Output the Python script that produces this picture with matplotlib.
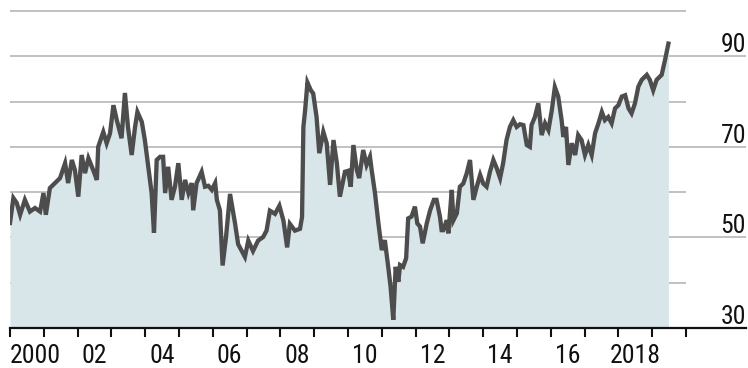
import matplotlib
matplotlib.use("Agg")
import matplotlib.pyplot as plt
import matplotlib.transforms as mtransforms
import numpy as np

# ---- data (decimal year, value) ----
years = [
    2000.00, 2000.10, 2000.20, 2000.30, 2000.44, 2000.59, 2000.74, 2000.89, 2000.99, 2001.06,
    2001.18, 2001.33, 2001.48, 2001.63, 2001.72, 2001.83, 2001.92, 2002.02, 2002.12, 2002.22,
    2002.32, 2002.46, 2002.57, 2002.61, 2002.76, 2002.86, 2002.96, 2003.06, 2003.16, 2003.30,
    2003.40, 2003.49, 2003.60, 2003.70, 2003.77, 2003.90, 2003.99, 2004.09, 2004.19, 2004.26,
    2004.34, 2004.44, 2004.53, 2004.59, 2004.68, 2004.78, 2004.88, 2004.98, 2005.08, 2005.18,
    2005.28, 2005.38, 2005.42, 2005.52, 2005.67, 2005.77, 2005.87, 2005.97, 2006.07, 2006.12,
    2006.21, 2006.29, 2006.39, 2006.51, 2006.66, 2006.75, 2006.95, 2007.05, 2007.19, 2007.34,
    2007.49, 2007.59, 2007.69, 2007.84, 2007.97, 2008.09, 2008.20, 2008.28, 2008.43, 2008.58,
    2008.64, 2008.68, 2008.73, 2008.80, 2008.90, 2008.97, 2009.07, 2009.15, 2009.27, 2009.37,
    2009.47, 2009.57, 2009.67, 2009.76, 2009.91, 2010.00, 2010.08, 2010.16, 2010.26, 2010.33,
    2010.45, 2010.55, 2010.65, 2010.70, 2010.80, 2010.90, 2011.00, 2011.09, 2011.19, 2011.26,
    2011.34, 2011.41, 2011.49, 2011.54, 2011.63, 2011.72, 2011.78, 2011.88, 2011.98, 2012.05,
    2012.13, 2012.21, 2012.33, 2012.43, 2012.54, 2012.62, 2012.72, 2012.77, 2012.82, 2012.92,
    2012.97, 2013.07, 2013.12, 2013.22, 2013.31, 2013.41, 2013.51, 2013.61, 2013.71, 2013.81,
    2013.91, 2014.00, 2014.10, 2014.20, 2014.30, 2014.40, 2014.50, 2014.59, 2014.69, 2014.79,
    2014.89, 2014.99, 2015.09, 2015.19, 2015.29, 2015.38, 2015.43, 2015.53, 2015.63, 2015.73,
    2015.83, 2015.93, 2016.03, 2016.12, 2016.22, 2016.32, 2016.37, 2016.45, 2016.52, 2016.62,
    2016.72, 2016.81, 2016.91, 2017.01, 2017.11, 2017.21, 2017.31, 2017.41, 2017.51, 2017.60,
    2017.70, 2017.80, 2017.90, 2018.00, 2018.10, 2018.20, 2018.30, 2018.39, 2018.49, 2018.59,
    2018.69, 2018.84, 2018.93, 2019.03, 2019.13, 2019.28, 2019.38, 2019.48,
]
values = [
    53.2, 58.7, 57.6, 55.0, 58.3, 55.7, 56.5, 55.7, 59.8, 55.0,
    60.9, 62.0, 63.1, 66.4, 62.0, 67.1, 64.9, 59.0, 68.2, 64.2,
    67.5, 64.9, 62.7, 70.0, 73.3, 70.8, 73.0, 79.2, 75.9, 71.9,
    81.9, 74.4, 68.2, 74.4, 77.7, 75.5, 71.5, 65.6, 59.8, 51.0,
    67.1, 67.8, 67.8, 59.8, 65.6, 58.3, 61.2, 66.4, 58.3, 62.7,
    59.8, 62.0, 56.0, 62.0, 64.5, 61.2, 61.4, 60.5, 62.0, 58.3,
    56.0, 43.8, 50.0, 59.6, 53.0, 48.5, 45.7, 49.3, 47.0, 49.3,
    50.1, 51.5, 55.9, 55.2, 57.0, 53.7, 47.8, 53.0, 51.5, 51.9,
    54.5, 74.4, 78.0, 84.2, 82.5, 81.8, 76.6, 68.6, 73.3, 70.8,
    61.6, 71.5, 66.4, 59.0, 64.5, 64.7, 61.2, 70.4, 64.9, 63.1,
    69.3, 66.0, 67.8, 64.9, 59.7, 53.1, 47.2, 49.4, 43.5, 39.1,
    31.8, 43.5, 40.2, 43.9, 43.5, 45.4, 54.2, 54.6, 56.8, 53.1,
    52.4, 48.7, 53.1, 56.0, 58.3, 58.3, 54.6, 51.6, 51.6, 53.8,
    50.9, 60.5, 53.8, 55.3, 61.2, 61.9, 64.1, 67.1, 58.3, 61.2,
    63.8, 61.9, 61.2, 64.5, 67.1, 65.3, 63.1, 66.4, 71.5, 74.4,
    75.9, 74.4, 75.0, 74.8, 70.4, 70.0, 74.8, 76.6, 79.6, 72.6,
    75.2, 73.7, 78.1, 83.2, 81.1, 75.9, 72.2, 74.4, 66.0, 70.8,
    68.2, 72.6, 71.5, 68.2, 70.4, 68.2, 73.0, 75.2, 77.7, 75.9,
    76.6, 75.2, 78.5, 79.2, 81.1, 81.4, 78.5, 77.4, 79.6, 83.3,
    84.8, 85.9, 84.8, 82.5, 84.8, 85.9, 89.2, 92.8,
]

tick_years = list(range(2000, 2021))
label_years = [2000, 2002, 2004, 2006, 2008, 2010, 2012, 2014, 2016, 2018]
label_texts = ["2000", "02", "04", "06", "08", "10", "12", "14", "16", "2018"]
grid_levels = [40, 60, 80, 100]
labeled_levels = [50, 70, 90]
label_values = ["30", "50", "70", "90"]

FONT = ["Roboto Condensed", "Liberation Sans Narrow", "DejaVu Sans Condensed",
        "Open Sans Condensed", "Roboto", "DejaVu Sans"]
LINE_C = "#4d4d4d"
FILL_C = "#d8e6ea"
GRID_C = "#bcbcbc"
TXT_C = "#111111"
FS = 18.5

W, H = 748, 368
fig = plt.figure(figsize=(W / 100, H / 100), dpi=100)
ax = fig.add_axes([10 / W, 40 / H, 736 / W, 328 / H])
ax.set_facecolor("white")

x_end = 2020 + 60 / 33.8
ax.set_xlim(2000, x_end)
ax.set_ylim(30, 30 + 328 / 4.5286)

# gridlines
for g in grid_levels:
    ax.plot([2000, 2020], [g, g], color=GRID_C, lw=1.3, zorder=1, solid_capstyle="butt")
for g in labeled_levels:
    ax.plot([2000, x_end], [g, g], color=GRID_C, lw=1.3, zorder=1, solid_capstyle="butt")

# area + line
ax.fill_between(years, 30, values, color=FILL_C, lw=0, zorder=2)
ax.plot(years, values, color=LINE_C, lw=3.1, zorder=3, solid_joinstyle="miter")

# bottom axis
for s in ["top", "right", "left"]:
    ax.spines[s].set_visible(False)
ax.spines["bottom"].set_color(TXT_C)
ax.spines["bottom"].set_linewidth(1.6)
ax.spines["bottom"].set_zorder(4)
ax.set_yticks([])
ax.set_xticks(tick_years)
ax.set_xticklabels([])
ax.tick_params(axis="x", which="major", direction="out", length=6.5, width=1.5, color=TXT_C)

# x labels centred on mid-year (first one kept inside the figure)
for yv, t in zip(label_years, label_texts):
    if yv == label_years[0]:
        ax.text(yv, -35 / 328, t, transform=ax.get_xaxis_transform(),
                ha="left", va="baseline", fontsize=FS, family=FONT, color=TXT_C)
    else:
        ax.text(yv + 0.5, -35 / 328, t, transform=ax.get_xaxis_transform(),
                ha="center", va="baseline", fontsize=FS, family=FONT, color=TXT_C)

# y labels at right above lines
offset = mtransforms.offset_copy(ax.transData, fig=fig, x=0, y=4, units="dots")
for lv, t in zip([30] + labeled_levels, label_values):
    ax.text(x_end, lv, t, transform=offset, ha="right", va="baseline",
            fontsize=FS, family=FONT, color=TXT_C)

fig.savefig("out.png", dpi=100)
